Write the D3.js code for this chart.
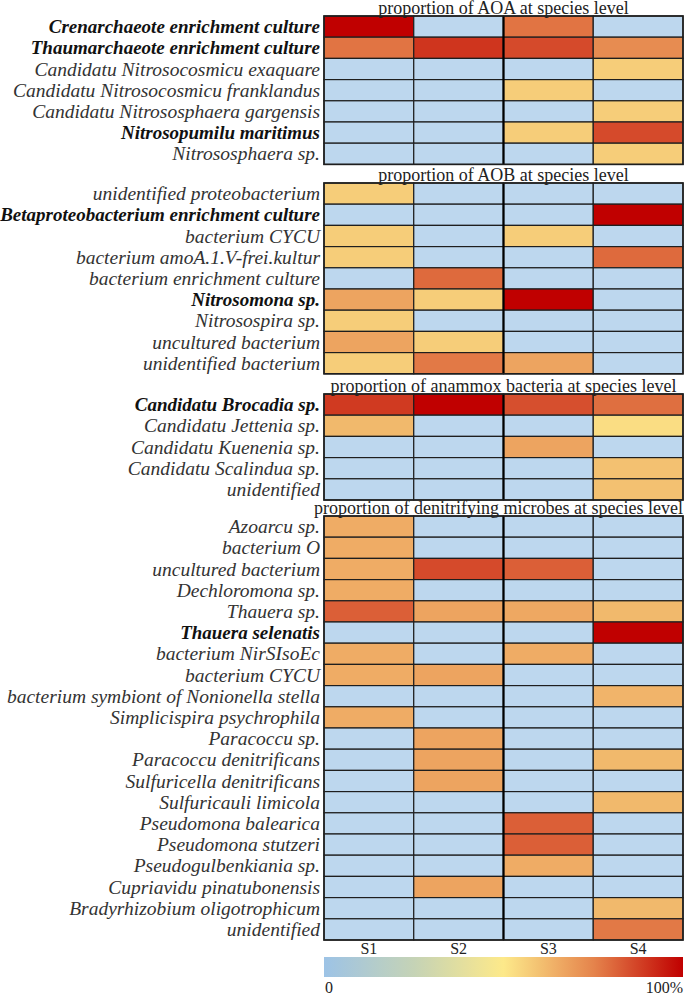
<!DOCTYPE html>
<html>
<head>
<meta charset="utf-8">
<script src="https://cdn.jsdelivr.net/npm/d3@7"></script>
<style>
  html, body { margin: 0; padding: 0; background: #fff; }
  svg { display: block; }
  text { font-family: "Liberation Serif", "Times New Roman", serif; fill: #222; }
</style>
</head>
<body>
<script>
// ---------------- DATA ----------------
const samples = ["S1", "S2", "S3", "S4"];

const sectionTitles = [
  "proportion of AOA at species level",
  "proportion of AOB at species level",
  "proportion of anammox bacteria at species level",
  "proportion of denitrifying microbes at species level"
];

const aoaLabels = [
  "Crenarchaeote enrichment culture",
  "Thaumarchaeote enrichment culture",
  "Candidatu Nitrosocosmicu exaquare",
  "Candidatu Nitrosocosmicu franklandus",
  "Candidatu Nitrososphaera gargensis",
  "Nitrosopumilu maritimus",
  "Nitrososphaera sp."
];
const aoaValues = [
  [1.00, 0.00, 0.78, 0.00],
  [0.78, 0.90, 0.86, 0.73],
  [0.00, 0.00, 0.00, 0.57],
  [0.00, 0.00, 0.57, 0.00],
  [0.00, 0.00, 0.00, 0.57],
  [0.00, 0.00, 0.57, 0.86],
  [0.00, 0.00, 0.00, 0.57]
];

const aobLabels = [
  "unidentified proteobacterium",
  "Betaproteobacterium enrichment culture",
  "bacterium CYCU",
  "bacterium amoA.1.V-frei.kultur",
  "bacterium enrichment culture",
  "Nitrosomona sp.",
  "Nitrosospira sp.",
  "uncultured bacterium",
  "unidentified bacterium"
];
const aobValues = [
  [0.57, 0.00, 0.00, 0.00],
  [0.00, 0.00, 0.00, 1.00],
  [0.57, 0.00, 0.57, 0.00],
  [0.57, 0.00, 0.00, 0.80],
  [0.00, 0.80, 0.00, 0.00],
  [0.67, 0.57, 1.00, 0.00],
  [0.57, 0.00, 0.00, 0.00],
  [0.67, 0.57, 0.00, 0.00],
  [0.57, 0.77, 0.67, 0.00]
];

const anammoxLabels = [
  "Candidatu Brocadia sp.",
  "Candidatu Jettenia sp.",
  "Candidatu Kuenenia sp.",
  "Candidatu Scalindua sp.",
  "unidentified"
];
const anammoxValues = [
  [0.89, 1.00, 0.85, 0.79],
  [0.62, 0.00, 0.00, 0.53],
  [0.00, 0.00, 0.67, 0.00],
  [0.00, 0.00, 0.00, 0.60],
  [0.00, 0.00, 0.00, 0.60]
];

const denitLabels = [
  "Azoarcu sp.",
  "bacterium O",
  "uncultured bacterium",
  "Dechloromona sp.",
  "Thauera sp.",
  "Thauera selenatis",
  "bacterium NirSIsoEc",
  "bacterium CYCU",
  "bacterium symbiont of Nonionella stella",
  "Simplicispira psychrophila",
  "Paracoccu sp.",
  "Paracoccu denitrificans",
  "Sulfuricella denitrificans",
  "Sulfuricauli limicola",
  "Pseudomona balearica",
  "Pseudomona stutzeri",
  "Pseudogulbenkiania sp.",
  "Cupriavidu pinatubonensis",
  "Bradyrhizobium oligotrophicum",
  "unidentified"
];
const denitValues = [
  [0.65, 0.00, 0.00, 0.00],
  [0.65, 0.00, 0.00, 0.00],
  [0.65, 0.86, 0.82, 0.00],
  [0.65, 0.00, 0.00, 0.00],
  [0.82, 0.67, 0.66, 0.62],
  [0.00, 0.00, 0.00, 1.00],
  [0.65, 0.00, 0.65, 0.00],
  [0.65, 0.67, 0.00, 0.00],
  [0.00, 0.00, 0.00, 0.63],
  [0.65, 0.00, 0.00, 0.00],
  [0.00, 0.67, 0.00, 0.00],
  [0.00, 0.67, 0.00, 0.62],
  [0.00, 0.67, 0.00, 0.00],
  [0.00, 0.00, 0.00, 0.62],
  [0.00, 0.00, 0.82, 0.00],
  [0.00, 0.00, 0.82, 0.00],
  [0.00, 0.00, 0.65, 0.00],
  [0.00, 0.67, 0.00, 0.00],
  [0.00, 0.00, 0.00, 0.62],
  [0.00, 0.00, 0.00, 0.77]
];

const boldLabels = [
  "Crenarchaeote enrichment culture",
  "Thaumarchaeote enrichment culture",
  "Nitrosopumilu maritimus",
  "Betaproteobacterium enrichment culture",
  "Nitrosomona sp.",
  "Candidatu Brocadia sp.",
  "Thauera selenatis"
];

const legendTicks = ["0", "100%"];

// ---------------- LAYOUT ----------------
const W = 685, H = 997;
const gridLeft = 324, gridRight = 683;
const rowH = 21.2;
const sectionTops = [16, 183, 394, 516];
const labelsBySection = [aoaLabels, aobLabels, anammoxLabels, denitLabels];
const valuesBySection = [aoaValues, aobValues, anammoxValues, denitValues];

const svg = d3.select("body").append("svg").attr("width", W).attr("height", H);

const x = d3.scaleBand().domain(samples).range([gridLeft, gridRight]).padding(0);

const legendColor = d3.scaleLinear()
  .domain([0, 0.25, 0.5, 0.75, 1])
  .range(["#9dc3e6", "#c5d3b6", "#fde98a", "#e5844c", "#c00000"])
  .interpolate(d3.interpolateRgb);
const zeroColor = "#bdd7ee";
const cellColor = v => (v === 0 ? zeroColor : legendColor(v));

labelsBySection.forEach((labels, s) => {
  const top = sectionTops[s];
  const values = valuesBySection[s];
  const y = d3.scaleBand().domain(d3.range(labels.length)).range([top, top + labels.length * rowH]);
  const g = svg.append("g");

  // cells
  const cells = [];
  values.forEach((row, i) => row.forEach((v, j) => cells.push({ i, j, v })));
  g.selectAll("rect.cell").data(cells).join("rect")
    .attr("class", "cell")
    .attr("x", d => x(samples[d.j]))
    .attr("y", d => y(d.i))
    .attr("width", x.bandwidth())
    .attr("height", y.bandwidth())
    .attr("fill", d => cellColor(d.v))
    .attr("stroke", "#1e1e1e")
    .attr("stroke-width", 1.2);

  // thicker separator between S2 and S3
  g.append("line")
    .attr("x1", x("S3")).attr("x2", x("S3"))
    .attr("y1", top).attr("y2", top + labels.length * rowH)
    .attr("stroke", "#000").attr("stroke-width", 2.2);

  // outer border
  g.append("rect")
    .attr("x", gridLeft).attr("y", top)
    .attr("width", gridRight - gridLeft).attr("height", labels.length * rowH)
    .attr("fill", "none").attr("stroke", "#1e1e1e").attr("stroke-width", 1.6);

  // title (kept inside the right edge)
  const t = g.append("text")
    .attr("y", top - 2)
    .attr("text-anchor", "middle")
    .style("font-size", "18px")
    .text(sectionTitles[s]);
  const tw = t.node().getComputedTextLength();
  const cx = Math.min((gridLeft + gridRight) / 2, W - 2 - tw / 2);
  t.attr("x", cx);

  // row labels
  g.selectAll("text.lab").data(labels).join("text")
    .attr("class", "lab")
    .attr("x", 320)
    .attr("y", (d, i) => y(i) + y.bandwidth() / 2 + 6.5)
    .attr("text-anchor", "end")
    .style("font-size", d => boldLabels.includes(d) ? "19px" : "19.5px")
    .style("font-style", "italic")
    .style("font-weight", d => boldLabels.includes(d) ? "bold" : "normal")
    .style("fill", d => boldLabels.includes(d) ? "#111" : "#333")
    .text(d => d);
});

// column labels
svg.selectAll("text.col").data(samples).join("text")
  .attr("class", "col")
  .attr("x", d => x(d) + x.bandwidth() / 2)
  .attr("y", 954)
  .attr("text-anchor", "middle")
  .style("font-size", "16px")
  .text(d => d);

// legend gradient
const defs = svg.append("defs");
const grad = defs.append("linearGradient").attr("id", "lg").attr("x1", "0%").attr("x2", "100%");
grad.selectAll("stop").data(d3.range(0, 1.0001, 0.05)).join("stop")
  .attr("offset", d => (d * 100) + "%")
  .attr("stop-color", d => legendColor(d));

svg.append("rect")
  .attr("x", gridLeft).attr("y", 957)
  .attr("width", gridRight - gridLeft).attr("height", 20)
  .attr("fill", "url(#lg)");

const lx = d3.scaleLinear().domain([0, 1]).range([gridLeft, gridRight]);
svg.selectAll("text.lt").data(legendTicks).join("text")
  .attr("class", "lt")
  .attr("x", (d, i) => lx(i) + (i === 0 ? 1 : 0))
  .attr("y", 993)
  .attr("text-anchor", (d, i) => i === 0 ? "start" : "end")
  .style("font-size", "16px")
  .text(d => d);
</script>
</body>
</html>
